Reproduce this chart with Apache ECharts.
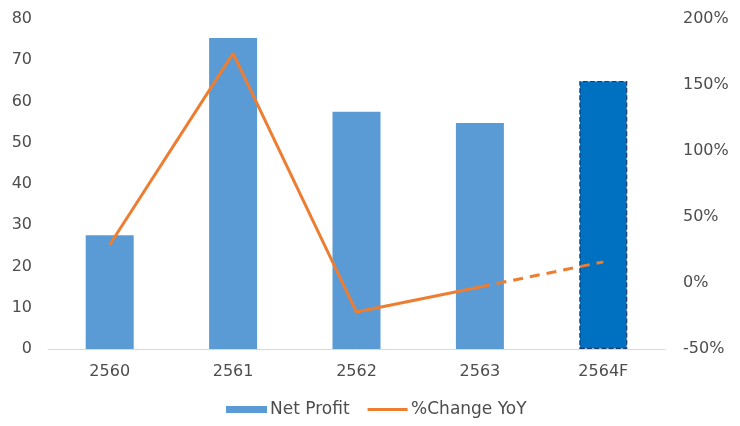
<!DOCTYPE html>
<html><head><meta charset="utf-8">
<script src="https://cdn.jsdelivr.net/npm/echarts@6/dist/echarts.min.js"></script>
<style>html,body{margin:0;padding:0;background:#fff}#c{width:740px;height:426px}</style>
</head><body><div id="c"></div>
<script>
const categories = ['2560','2561','2562','2563','2564F'];
const netProfit = [27.6, 75.4, 57.5, 54.8, 65];
const changeYoY = [29, 174, -22, -3, 16];
const leftTicks = [0, 80, 10];
const rightTicks = [-50, 200, 50];

const solid = changeYoY.map((v,i)=> i <= 3 ? v : null);
const dashed = changeYoY.map((v,i)=> i >= 3 ? v : null);

const chart = echarts.init(document.getElementById('c'));
const font = '"DejaVu Sans", sans-serif';
const txt = '#4d4d4d';
chart.setOption({
  animation:false,
  grid:{left:48,right:75,top:19,bottom:77},
  legend:{
    bottom:3, left:221, itemGap:18, itemWidth:41, itemHeight:7,
    data:[{name:'Net Profit', icon:'rect'},
          {name:'%Change YoY', icon:'path://M0,0L0,0M0,2H40V5H0Z M0,7L0,7', itemStyle:{color:'#ED7D31'}}],
    textStyle:{color:txt,fontSize:17,fontFamily:font,padding:[0,0,0,-2]}
  },
  xAxis:{type:'category',data:categories,
    axisLine:{lineStyle:{color:'#d9d9d9'}},axisTick:{show:false},
    axisLabel:{color:txt,fontSize:16,fontFamily:font,margin:15}},
  yAxis:[
    {type:'value',min:leftTicks[0],max:leftTicks[1],interval:leftTicks[2],
     splitLine:{show:false},axisLine:{show:false},axisTick:{show:false},
     axisLabel:{color:txt,fontSize:16,fontFamily:font,margin:16}},
    {type:'value',min:rightTicks[0],max:rightTicks[1],interval:rightTicks[2],
     splitLine:{show:false},axisLine:{show:false},axisTick:{show:false},
     axisLabel:{color:txt,fontSize:16,fontFamily:font,margin:18,formatter:'{value}%'}}
  ],
  series:[
    {name:'Net Profit',type:'bar',barWidth:48,
     data:netProfit.map((v,i)=> i===4 ? {value:v,itemStyle:{color:'#0070C0',borderColor:'#1F3864',borderWidth:1.2,borderType:'dashed'}} : v),
     itemStyle:{color:'#5B9BD5'}},
    {name:'%Change YoY',type:'line',yAxisIndex:1,data:solid,symbol:'none',
     lineStyle:{color:'#ED7D31',width:3},itemStyle:{color:'#ED7D31'}},
    {name:'forecast',type:'line',yAxisIndex:1,data:dashed,symbol:'none',
     lineStyle:{color:'#ED7D31',width:3,type:[10,7]}}
  ]
});
</script></body></html>
